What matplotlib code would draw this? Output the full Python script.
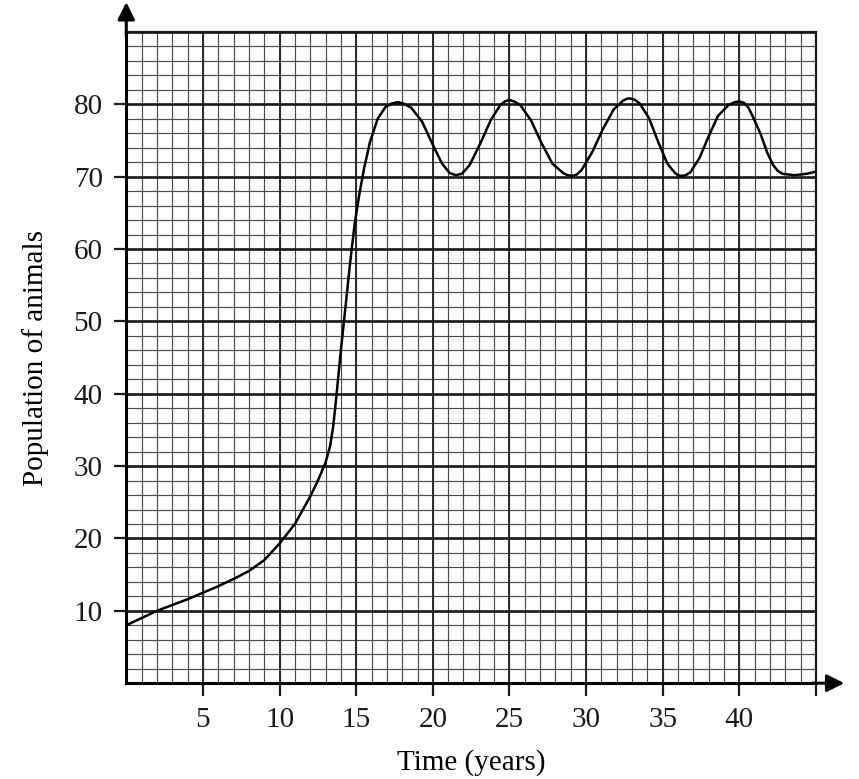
import numpy as np
import matplotlib
matplotlib.use("Agg")
import matplotlib.pyplot as plt

# curve (time in years, population)
time_years = [0, 1, 2, 3, 4, 5, 6, 7, 8, 9, 10, 11, 12, 12.5, 13, 13.3, 13.5,
              13.7, 14.0, 14.3, 14.6, 14.9, 15.2, 15.5, 15.9, 16.4, 16.9, 17.3,
              17.7, 18.1, 18.6, 19.3, 20.0, 20.6, 21.1, 21.5, 21.9, 22.4, 23.1,
              23.8, 24.4, 24.7, 25.0, 25.3, 25.7, 26.4, 27.1, 27.8, 28.5, 28.8,
              29.1, 29.4, 29.7, 30.4, 31.1, 31.8, 32.4, 32.7, 32.9, 33.2, 33.5,
              34.1, 34.7, 35.3, 35.8, 36.0, 36.2, 36.5, 36.8, 37.4, 38.0, 38.6,
              39.3, 39.7, 40.0, 40.3, 40.6, 40.9, 41.4, 41.8, 42.2, 42.5, 42.8,
              43.6, 44.4, 45.0]
population = [8.0, 9.0, 10.0, 10.8, 11.6, 12.5, 13.4, 14.4, 15.5, 17.0, 19.3,
              22.0, 25.8, 28.0, 30.5, 32.8, 35.5, 39.5, 46.0, 52.0, 58.0, 63.5,
              67.5, 71.0, 74.8, 78.0, 79.6, 80.1, 80.3, 80.1, 79.5, 77.6, 74.4,
              71.8, 70.5, 70.2, 70.4, 71.6, 74.6, 77.9, 79.9, 80.4, 80.6, 80.4,
              79.9, 77.8, 74.6, 71.8, 70.5, 70.2, 70.1, 70.3, 70.9, 73.4, 76.6,
              79.3, 80.5, 80.8, 80.8, 80.6, 80.1, 78.1, 74.8, 71.8, 70.5, 70.2,
              70.1, 70.2, 70.6, 72.6, 75.6, 78.4, 79.9, 80.3, 80.4, 80.2, 79.5,
              78.2, 75.8, 73.4, 71.6, 70.8, 70.4, 70.2, 70.4, 70.7]

# axis ticks / labels
x_ticks = [5, 10, 15, 20, 25, 30, 35, 40, 45]
x_ticklabels = ["5", "10", "15", "20", "25", "30", "35", "40", ""]
y_ticks = [10, 20, 30, 40, 50, 60, 70, 80]
x_minor = list(range(0, 46))
y_minor = list(range(0, 91, 2))

plt.rcParams['font.family'] = ['Liberation Serif', 'DejaVu Serif']

fig = plt.figure(figsize=(8.59, 7.79), dpi=100)
ax = fig.add_axes([0.147, 0.123, 0.803, 0.836])
ax.set_xlim(0, 45)
ax.set_ylim(0, 90)

# graph paper: fine squares
for xv in x_minor:
    ax.axvline(xv, color="#4a4a4a", lw=0.85, zorder=1)
for yv in y_minor:
    ax.axhline(yv, color="#4a4a4a", lw=0.85, zorder=1)
# heavier lines every 5 years / 10 animals
for xv in x_ticks:
    ax.axvline(xv, color="#2a2a2a", lw=1.4, zorder=2)
for yv in y_ticks + [90]:
    ax.axhline(yv, color="#1a1a1a", lw=1.9, zorder=2)

ax.plot(time_years, population, color="black", lw=1.8, zorder=4,
        solid_joinstyle="round")

ax.set_xticks(x_ticks)
ax.set_xticklabels(x_ticklabels)
ax.set_yticks(y_ticks)
ax.tick_params(axis="both", direction="out", length=9, width=1.6,
               labelsize=21, pad=8, colors="#1a1a1a")

for side in ["top", "right"]:
    ax.spines[side].set_linewidth(1.6)
    ax.spines[side].set_color("#1a1a1a")
for side in ["left", "bottom"]:
    ax.spines[side].set_linewidth(2.2)
    ax.spines[side].set_color("black")

# axis arrows
ax.annotate("", xy=(0, 1.05), xytext=(0, 0.99), xycoords="axes fraction",
            arrowprops=dict(arrowstyle="-|>", color="black", lw=2.2,
                            mutation_scale=26), annotation_clip=False)
ax.annotate("", xy=(1.045, 0), xytext=(0.99, 0), xycoords="axes fraction",
            arrowprops=dict(arrowstyle="-|>", color="black", lw=2.2,
                            mutation_scale=26), annotation_clip=False)

ax.set_xlabel("Time (years)", fontsize=21, labelpad=12)
ax.set_ylabel("Population of animals", fontsize=21, labelpad=18)

fig.savefig("out.png", dpi=100, facecolor="white")
